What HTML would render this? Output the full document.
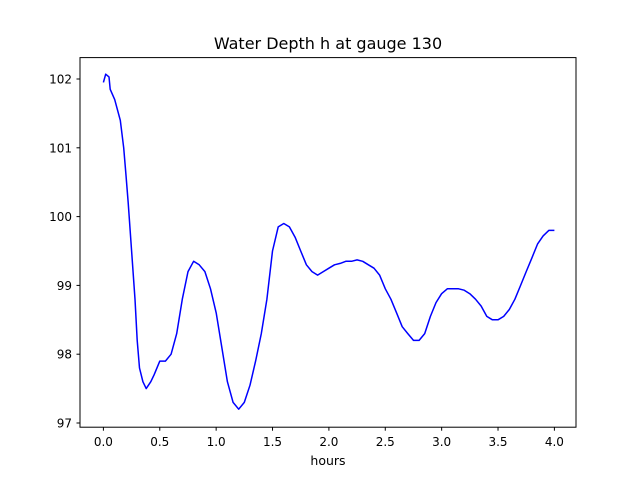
<!DOCTYPE html>
<html><head><meta charset="utf-8">
<style>
body{margin:0;background:#fff;}
svg{display:block;font-family:"DejaVu Sans","Liberation Sans",sans-serif;}
</style></head>
<body>
<svg id="chart" width="640" height="480">
<rect width="640" height="480" fill="#fff"/>
<text x="328" y="49" font-size="16" text-anchor="middle">Water Depth h at gauge 130</text>
<g id="ticks"></g>
<path id="line" fill="none" stroke="#0000ff" stroke-width="1.5" stroke-linejoin="round"/>
<rect x="80" y="57.6" width="496" height="369.6" fill="none" stroke="#000" stroke-width="1"/>
<text x="328" y="465" font-size="12.5" text-anchor="middle">hours</text>
</svg>
<script>
const hours=[0,0.02,0.05,0.06,0.1,0.15,0.18,0.2,0.22,0.25,0.28,0.3,0.32,0.35,0.38,0.42,0.45,0.5,0.55,0.6,0.65,0.7,0.75,0.8,0.85,0.9,0.95,1.0,1.05,1.1,1.15,1.2,1.25,1.3,1.35,1.4,1.45,1.5,1.55,1.6,1.65,1.7,1.75,1.8,1.85,1.9,1.95,2.0,2.05,2.1,2.15,2.2,2.25,2.3,2.35,2.4,2.45,2.5,2.55,2.6,2.65,2.7,2.75,2.8,2.85,2.9,2.95,3.0,3.05,3.1,3.15,3.2,3.25,3.3,3.35,3.4,3.45,3.5,3.55,3.6,3.65,3.7,3.75,3.8,3.85,3.9,3.95,4.0];
const depth=[101.95,102.07,102.03,101.85,101.7,101.4,101.0,100.6,100.2,99.5,98.8,98.2,97.8,97.6,97.5,97.6,97.7,97.9,97.9,98.0,98.3,98.8,99.2,99.35,99.3,99.2,98.95,98.6,98.1,97.6,97.3,97.2,97.3,97.55,97.9,98.3,98.8,99.5,99.85,99.9,99.85,99.7,99.5,99.3,99.2,99.15,99.2,99.25,99.3,99.32,99.35,99.35,99.37,99.35,99.3,99.25,99.15,98.95,98.8,98.6,98.4,98.3,98.2,98.2,98.3,98.55,98.75,98.88,98.95,98.95,98.95,98.93,98.88,98.8,98.7,98.55,98.5,98.5,98.55,98.65,98.8,99.0,99.2,99.4,99.6,99.72,99.8,99.8];
const xTicks=[0.0,0.5,1.0,1.5,2.0,2.5,3.0,3.5,4.0];
const yTicks=[97,98,99,100,101,102];
const xs=v=>103.4+(v-0)*(554.4-103.4)/4;
const ys=v=>79+(102-v)*(423-79)/5;
const NS="http://www.w3.org/2000/svg";
const g=document.getElementById('ticks');
xTicks.forEach(t=>{
  const l=document.createElementNS(NS,'line');
  l.setAttribute('x1',xs(t));l.setAttribute('x2',xs(t));l.setAttribute('y1',427.2);l.setAttribute('y2',430.7);l.setAttribute('stroke','#000');
  
  
  g.appendChild(l);
  const tx=document.createElementNS(NS,'text');
  tx.setAttribute('x',xs(t));tx.setAttribute('y',446);tx.setAttribute('font-size','12');tx.setAttribute('text-anchor','middle');
  tx.textContent=t.toFixed(1);
  
  
  g.appendChild(tx);
});
yTicks.forEach(t=>{
  const l=document.createElementNS(NS,'line');
  l.setAttribute('x1',76.5);l.setAttribute('x2',80);l.setAttribute('y1',ys(t));l.setAttribute('y2',ys(t));l.setAttribute('stroke','#000');
  
  
  g.appendChild(l);
  const tx=document.createElementNS(NS,'text');
  tx.setAttribute('x',72);tx.setAttribute('y',ys(t)+4.5);tx.setAttribute('font-size','12');tx.setAttribute('text-anchor','end');
  tx.textContent=t;
  
  
  g.appendChild(tx);
});
document.getElementById('line').setAttribute('d',hours.map((h,i)=>(i?'L':'M')+xs(h).toFixed(1)+','+ys(depth[i]).toFixed(1)).join(''));
</script>
</body></html>
